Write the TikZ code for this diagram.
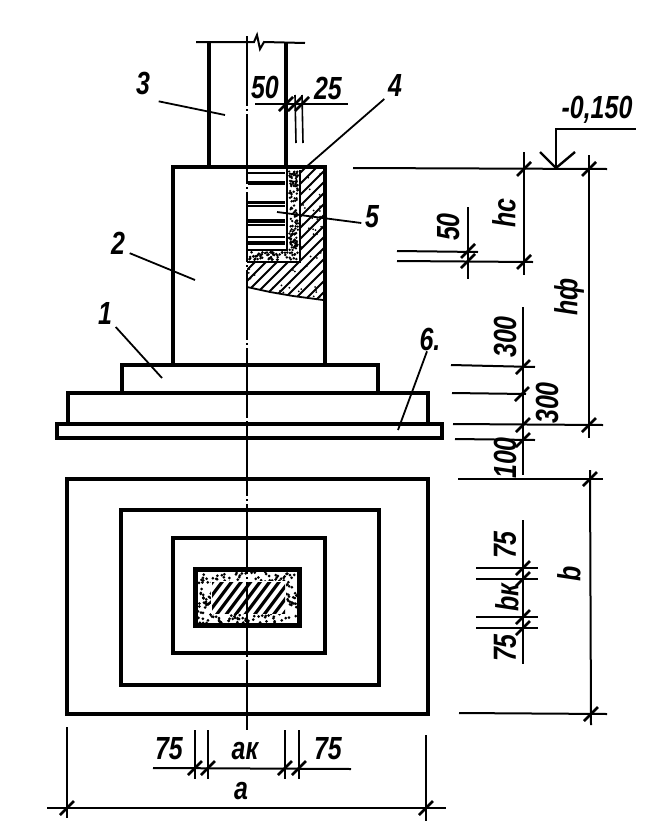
\documentclass[tikz,border=0pt]{standalone}
\usepackage{fontspec}
\setmainfont{Liberation Sans}
\tikzset{
 obj/.style={draw=black,line width=3.6pt,line join=miter},
 dimln/.style={draw=black,line width=2pt},
 lead/.style={draw=black,line width=1.8pt},
 axisln/.style={draw=black,line width=2pt,dash pattern=on 70pt off 3pt on 2pt off 3pt},
 lab/.style={inner sep=0pt,outer sep=1pt,font=\fontsize{32}{32}\selectfont\bfseries\itshape,xscale=.78,text=black},
 labs/.style={lab},
 vlab/.style={inner sep=0pt,outer sep=1pt,font=\fontsize{32}{32}\selectfont\bfseries\itshape,yscale=.78,rotate=90,text=black},
}
\newcommand{\tickmk}[2]{\draw[line width=2.6pt] (#1-7,#2+7) -- (#1+7,#2-7);}
\begin{document}
\begin{tikzpicture}[x=1pt,y=-1pt]
\useasboundingbox (0,0) rectangle (659,825);
\fill[white] (0,0) rectangle (659,825);
% section sand, hatch
\begin{scope}
 \clip (247,168) -- (323,168) -- (323,300) -- (293,296) -- (270,292) -- (247,287) -- cycle;
 \foreach \i in {-14,...,10} \draw[line width=1.8pt] (240+\i*11,310) -- (400+\i*11,150);
 \fill[white] (247,168) rectangle (300,262);
 \pgfmathsetseed{3}
 \foreach \i in {1,...,26} {
  \pgfmathsetmacro{\dx}{248+rnd*74}\pgfmathsetmacro{\dy}{264+rnd*34}
  \fill (\dx,\dy) circle (1pt);
  \pgfmathsetmacro{\dx}{301+rnd*21}\pgfmathsetmacro{\dy}{170+rnd*90}
  \fill (\dx,\dy) circle (1pt);}
\end{scope}
\draw[line width=1.8pt] (247,287) -- (270,292) -- (293,296) -- (323,300);
% section stripes (bars in the column)
\foreach \ya/\w in {173/2.5,183/3.5,202/3,206/2,221/4,225/2.5,237/2,243/3.5}
 \draw[line width=\w pt] (248,\ya) -- (285,\ya);
% sand in section
\draw[line width=2.2pt] (287,168) -- (287,250) -- (248,250);
\draw[line width=2.6pt] (247,262) -- (300,262) -- (300,170);
\pgfmathsetseed{17}
\foreach \i in {1,...,130} {
 \pgfmathsetmacro{\dx}{289+rnd*9}\pgfmathsetmacro{\dy}{170+rnd*80}
 \fill (\dx,\dy) circle (1.3pt);}
\foreach \i in {1,...,60} {
 \pgfmathsetmacro{\dx}{249+rnd*49}\pgfmathsetmacro{\dy}{252+rnd*8}
 \fill (\dx,\dy) circle (1.4pt);}
% elevation outline
\draw[obj] (209,42) -- (209,167);
\draw[obj] (286,42) -- (286,167);
\draw[obj] (173,365) -- (173,167) -- (325,167) -- (325,365);
\draw[obj] (122,393) -- (122,365) -- (378,365) -- (378,393);
\draw[obj] (68,424) -- (68,393) -- (428,393) -- (428,424);
\draw[obj] (57,424) rectangle (442,438);
% column break line
\draw[dimln] (196,42) -- (254,42) -- (257,35) -- (260,49) -- (264,42) -- (305,43);
% plan
\draw[obj] (67,479) rectangle (428,714);
\draw[obj] (121,510) rectangle (379,685);
\draw[obj] (173,538) rectangle (325,653);
\fill[black] (193,567) rectangle (302,628);
\fill[white] (198,572) rectangle (297,623);
\pgfmathsetseed{5}
\foreach \i in {1,...,280} {
 \pgfmathsetmacro{\dx}{198+rnd*99}\pgfmathsetmacro{\dy}{572+rnd*51}
 \fill[black] (\dx,\dy) circle (1.5pt);}
\begin{scope}
 \fill[white] (211,581) rectangle (286,614);
 \clip (212,582) rectangle (285,613);
 \foreach \i in {-3,...,12} \draw[line width=3.2pt] (195+\i*9.5,618) -- (225+\i*9.5,578);
\end{scope}
% axis
\draw[axisln] (247,36) -- (247,730);
% leaders and labels
\node[lab] (n3) at (143,83) {3};
\coordinate (e3) at (225,115);
\draw[lead] (n3.south east) ++(8,6) -- (e3);
\node[lab] (n4) at (395,85) {4};
\coordinate (e4) at (305,168);
\draw[lead] (n4.south west) ++(-3,2) -- (e4);
\node[lab] (n5) at (372,217) {5};
\coordinate (e5) at (277,212);
\draw[lead] (n5.west) ++(-3,6) -- (e5);
\node[lab] (n2) at (118,243) {2};
\coordinate (e2) at (195,280);
\draw[lead] (n2.south east) ++(4,-2) -- (e2);
\node[lab] (n1) at (105,313) {1};
\coordinate (e1) at (162,378);
\draw[lead] (n1.south east) ++(3,2) -- (e1);
\node[lab] (n6) at (430,339) {6.};
\coordinate (e6) at (398,430);
\draw[lead] (n6.south) ++(-3,0) -- (e6);
% dims top: 50 / 25
\coordinate (d1a) at (255,104); \coordinate (d1b) at (348,104);
\draw[dimln] (d1a) -- (d1b);
\draw[line width=1.6pt] (295,95) -- (296,143);
\draw[line width=1.6pt] (302,95) -- (303,143);
\tickmk{286}{104}\tickmk{295}{104}\tickmk{302}{104}
\node[labs] (t50a) at (265,87) {50};
\node[labs] (t25) at (328,88) {25};
% elevation mark
\coordinate (m0) at (556,168); \coordinate (m1) at (556,129); \coordinate (m2) at (636,129);
\draw[dimln] (m0) -- (m1) -- (m2);
\draw[line width=2.4pt] (540,152) -- (m0) -- (575,152);
\node[lab] (lev) at (597,110) {-0,150};
% right dims
\draw[dimln] (353,168) -- (607,169);
\draw[dimln] (397,251) -- (478,252);
\draw[dimln] (397,261) -- (533,262);
\draw[dimln] (468,207) -- (468,279);
\draw[dimln] (524,152) -- (524,275);
\draw[dimln] (589,155) -- (589,438);
\tickmk{524}{169}\tickmk{589}{169}\tickmk{468}{251}\tickmk{468}{261}\tickmk{524}{262}
\node[vlab] (t50b) at (448,227) {50};
\node[vlab] (thc) at (504,213) {hc};
\node[vlab] (thf) at (569,297) {hф};
% foundation dims
\draw[dimln] (451,365) -- (535,367);
\draw[dimln] (452,393) -- (526,394);
\draw[dimln] (453,424) -- (603,425);
\draw[dimln] (455,439) -- (535,440);
\draw[dimln] (458,479) -- (603,479);
\draw[dimln] (523,307) -- (523,475);
\tickmk{523}{367}\tickmk{522}{394}\tickmk{523}{425}\tickmk{589}{425}\tickmk{523}{440}
\node[vlab] (t300a) at (505,337) {300};
\node[vlab] (t300b) at (547,403) {300};
\node[vlab] (t100) at (505,458) {100};
% plan right dims
\draw[dimln] (459,713) -- (607,714);
\draw[dimln] (590,470) -- (591,725);
\tickmk{590}{479}\tickmk{591}{714}
\node[vlab] (tb) at (569,574) {b};
\draw[dimln] (523,520) -- (523,664);
\foreach \yy in {568,579,617,628} {
 \draw[line width=1.8pt] (476,\yy) -- (538,\yy);
 \tickmk{523}{\yy}}
\node[vlab] (t75a) at (505,545) {75};
\node[vlab] (tbk) at (507,598) {bк};
\node[vlab] (t75b) at (505,648) {75};
% bottom dims
\draw[dimln] (67,727) -- (67,818);
\draw[dimln] (426,735) -- (426,821);
\draw[dimln] (47,808) -- (446,808);
\draw[dimln] (153,768) -- (351,769);
\foreach \xx in {195,208,285,299} {
 \draw[line width=1.8pt] (\xx,730) -- (\xx,779);
 \tickmk{\xx}{768}}
\tickmk{67}{808}\tickmk{426}{808}
\node[labs] (t75c) at (169,749) {75};
\node[labs] (tak) at (245,751) {aк};
\node[labs] (t75d) at (328,749) {75};
\node[lab] (ta) at (241,791) {a};
\end{tikzpicture}
\end{document}
